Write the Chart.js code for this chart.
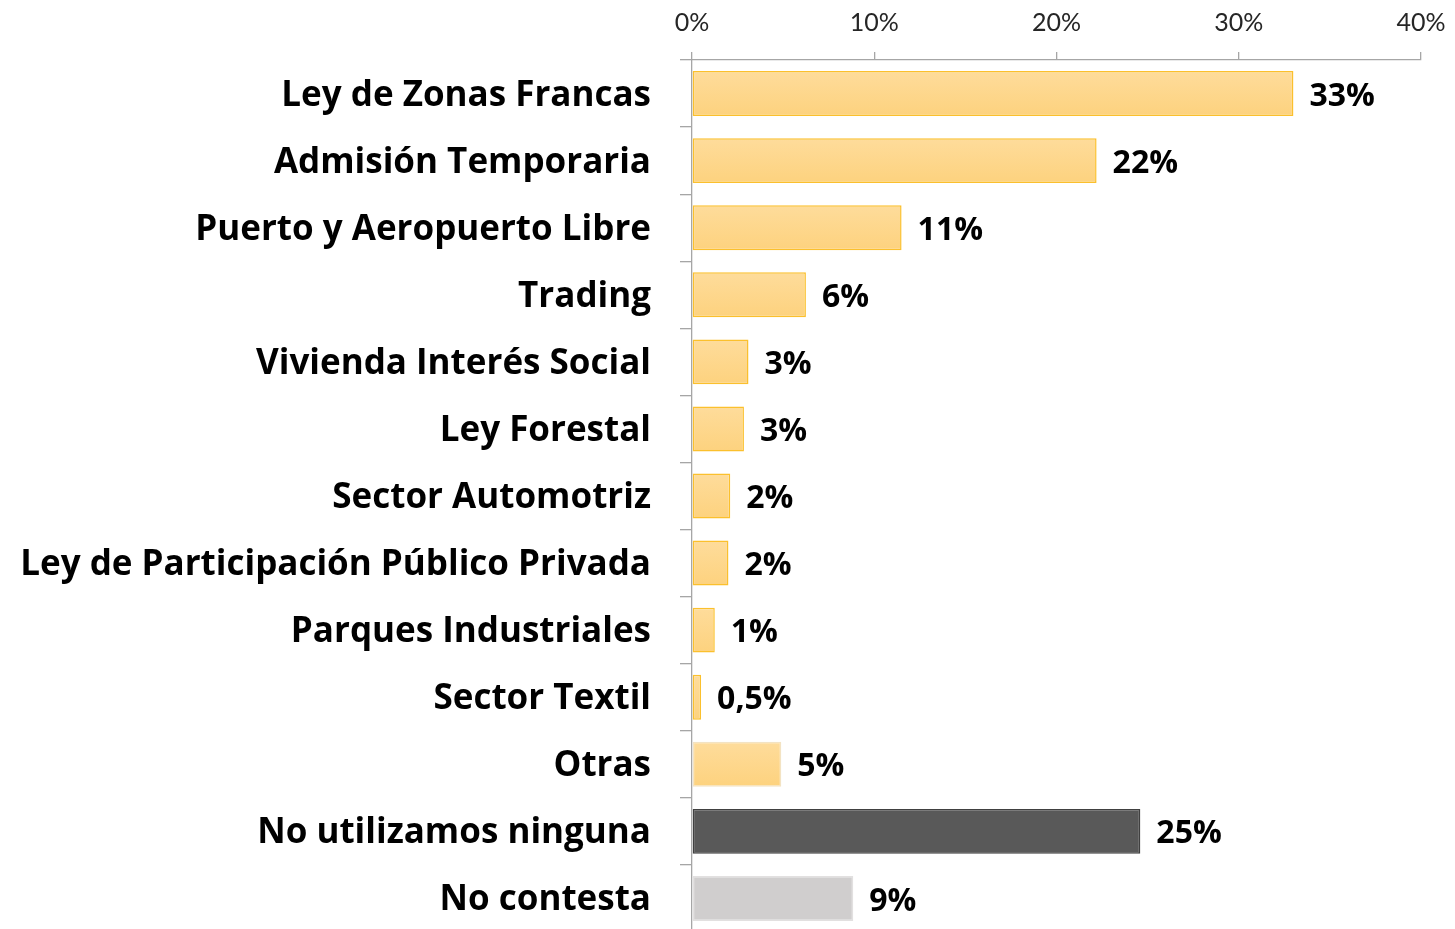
<!DOCTYPE html>
<html>
<head>
<meta charset="utf-8">
<script src="https://cdn.jsdelivr.net/npm/chart.js@4/dist/chart.umd.min.js"></script>
<style>
html,body{margin:0;padding:0;background:#fff;overflow:hidden;}
#wrap{position:relative;width:1455px;height:932px;}
</style>
</head>
<body>
<div id="wrap"><canvas id="c"></canvas></div>
<script>
const categories = [
  "Ley de Zonas Francas",
  "Admisión Temporaria",
  "Puerto y Aeropuerto Libre",
  "Trading",
  "Vivienda Interés Social",
  "Ley Forestal",
  "Sector Automotriz",
  "Ley de Participación Público Privada",
  "Parques Industriales",
  "Sector Textil",
  "Otras",
  "No utilizamos ninguna",
  "No contesta"
];
const values = [33.0, 22.2, 11.5, 6.25, 3.1, 2.85, 2.1, 2.0, 1.25, 0.5, 4.9, 24.6, 8.85];
const valueLabels = ["33%", "22%", "11%", "6%", "3%", "3%", "2%", "2%", "1%", "0,5%", "5%", "25%", "9%"];
const tickValues = [0, 10, 20, 30, 40];
const barKinds = ["y","y","y","y","y","y","y","y","y","y","o","d","g"];

const BOLD_FONT = "'Open Sans', Lato, sans-serif";
const TICK_FONT = "Lato, 'Open Sans', sans-serif";
const BAR_PCT = 0.67;

function fillFor(ctx){
  const kind = barKinds[ctx.dataIndex];
  if (kind === "d") return "#595959";
  if (kind === "g") return "#D0CECE";
  const chart = ctx.chart;
  const ys = chart.scales && chart.scales.y;
  if (!ys || !isFinite(ys.height) || ys.height <= 0) return "#FED98E";
  const yc = ys.getPixelForValue(ctx.dataIndex);
  const half = ys.height / categories.length * BAR_PCT / 2;
  const g = chart.ctx.createLinearGradient(0, yc - half, 0, yc + half);
  g.addColorStop(0, "#FEDC9B");
  g.addColorStop(1, "#FDD27E");
  return g;
}
function borderFor(ctx){
  const kind = barKinds[ctx.dataIndex];
  if (kind === "d") return "#404040";
  if (kind === "g") return "#E2E0E0";
  if (kind === "o") return "#F3E3C3";
  return "#FBC02D";
}

const valueLabelPlugin = {
  id: "valueLabels",
  afterDatasetsDraw(chart){
    const meta = chart.getDatasetMeta(0);
    const c = chart.ctx;
    c.save();
    c.font = "bold 32px " + BOLD_FONT;
    c.fillStyle = "#000";
    c.textAlign = "left";
    c.textBaseline = "middle";
    meta.data.forEach((bar, i) => {
      c.fillText(valueLabels[i], bar.x + 16, bar.y + 3);
    });
    c.restore();
  }
};

new Chart(document.getElementById("c"), {
  type: "bar",
  data: {
    labels: categories,
    datasets: [{
      data: values,
      backgroundColor: fillFor,
      borderColor: borderFor,
      borderWidth: 1.5,
      borderSkipped: false,
      barPercentage: BAR_PCT,
      categoryPercentage: 1.0
    }]
  },
  options: {
    indexAxis: "y",
    responsive: true,
    maintainAspectRatio: false,
    animation: false,
    layout: { padding: { left: 0, right: 34, top: 0, bottom: 0 } },
    plugins: { legend: { display: false }, tooltip: { enabled: false } },
    scales: {
      x: {
        position: "top",
        min: 0,
        max: 40,
        afterBuildTicks(scale){ scale.ticks = tickValues.map(v => ({ value: v })); },
        afterFit(scale){ scale.height = 60; scale.paddingLeft = 0; scale.paddingRight = 0; },
        ticks: {
          callback: v => v + "%",
          color: "#262626",
          font: { family: TICK_FONT, size: 25 },
          padding: 14,
          maxRotation: 0
        },
        grid: { drawOnChartArea: false, tickLength: 8, color: "#A6A6A6", lineWidth: 1.3 },
        border: { display: true, color: "#A6A6A6", width: 1.3 }
      },
      y: {
        afterFit(scale){ scale.width = 692; scale.paddingTop = 0; scale.paddingBottom = 0; },
        ticks: {
          color: "#000",
          font: { family: BOLD_FONT, size: 35, weight: "bold" },
          padding: 29,
          labelOffset: 2,
          autoSkip: false
        },
        grid: { drawOnChartArea: false, tickLength: 12, offset: true, color: "#A6A6A6", lineWidth: 1.3 },
        border: { display: true, color: "#A6A6A6", width: 1.3 }
      }
    }
  },
  plugins: [valueLabelPlugin]
});
</script>
</body>
</html>
